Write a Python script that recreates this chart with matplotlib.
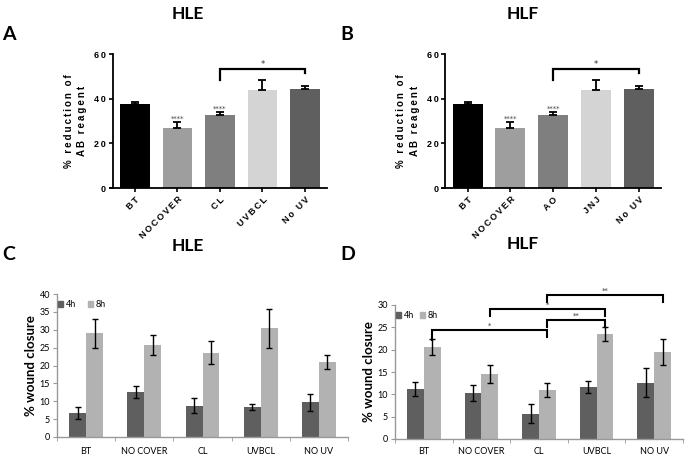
import numpy as np
import matplotlib.pyplot as plt
from matplotlib.patches import Patch

# Alamar blue (panels A and B)
ab_cats_hle = ['BT', 'NOCOVER', 'CL', 'UVBCL', 'No UV']
ab_cats_hlf = ['BT', 'NOCOVER', 'AO', 'JNJ', 'No UV']
ab_vals = [37.5, 27.0, 32.5, 44.0, 44.5]
ab_err = [1.0, 2.5, 1.5, 4.3, 1.0]
ab_stars = ['', '****', '****', '', '']

# Wound closure (panels C and D)
wound_cats = ['BT', 'NO COVER', 'CL', 'UVBCL', 'NO UV']
hle_4h = [6.7, 12.7, 8.8, 8.4, 9.7]
hle_4h_err = [1.7, 1.7, 2.2, 0.9, 2.4]
hle_8h = [29.0, 25.7, 23.6, 30.4, 20.9]
hle_8h_err = [4.1, 2.8, 3.3, 5.5, 2.0]
hlf_4h = [11.2, 10.3, 5.7, 11.6, 12.6]
hlf_4h_err = [1.6, 1.9, 2.1, 1.3, 3.2]
hlf_8h = [20.6, 14.5, 11.0, 23.5, 19.5]
hlf_8h_err = [1.8, 2.0, 1.6, 1.5, 3.0]

# brackets: (start, end, top, left drop, right drop, label)
ab_bracket = (2, 4, 53.2, 48.3, 51.5, '*')
hlf_brackets = [
    (0.145, 2.145, 24.4, 22.2, 22.8, '*'),
    (1.145, 3.145, 29.1, 27.5, 27.5, '*'),
    (2.145, 3.145, 26.6, 25.1, 25.1, '**'),
    (2.145, 4.145, 32.2, 30.7, 30.7, '**'),
]

ab_colors = ['#000000', '#9e9e9e', '#7f7f7f', '#d4d4d4', '#5f5f5f']
c4 = '#5f5f5f'
c8 = '#b2b2b2'
W, H = 685, 457

fig = plt.figure(figsize=(W / 100, H / 100), dpi=100)


def px_axes(l, t, r, b):
    return fig.add_axes([l / W, 1 - b / H, (r - l) / W, (b - t) / H])


def spaced(s):
    return '\u2009'.join(s)


def draw_bracket(ax, br, lw, fs):
    x1, x2, y, d1, d2, lab = br
    ax.plot([x1, x1, x2, x2], [d1, y, y, d2], color='black', lw=lw,
            clip_on=False, solid_joinstyle='miter')
    ax.text((x1 + x2) / 2, y + 0.3, lab, ha='center', va='bottom',
            fontsize=fs, color='#333333', clip_on=False)


def ab_panel(ax, cats):
    x = np.arange(len(cats))
    ax.bar(x, ab_vals, width=0.7, color=ab_colors)
    ax.errorbar(x, ab_vals, yerr=[np.zeros(len(x)), ab_err], fmt='none',
                ecolor='black', elinewidth=1.3, capsize=3, capthick=1.3)
    for xi, v, e, s in zip(x, ab_vals, ab_err, ab_stars):
        if s:
            ax.text(xi, v + e + 0.3, s, ha='center', va='bottom',
                    fontsize=5, color='#444444')
    draw_bracket(ax, ab_bracket, 1.6, 6)
    ax.set_xlim(-0.6, 4.52)
    ax.set_ylim(0, 60)
    for sp in ['top', 'right']:
        ax.spines[sp].set_visible(False)
    ax.spines['left'].set_position(('data', -0.52))
    ax.spines['left'].set_linewidth(1.3)
    ax.spines['bottom'].set_linewidth(1.3)
    ax.set_yticks([0, 20, 40, 60])
    ax.set_yticklabels([spaced(str(v)) for v in [0, 20, 40, 60]],
                       fontsize=6.5, fontweight='bold', family='Liberation Sans')
    ax.set_xticks(x)
    ax.set_xticklabels([spaced(c) for c in cats], rotation=45, ha='right',
                       rotation_mode='anchor', fontsize=6.5, fontweight='bold',
                       family='Liberation Sans')
    ax.tick_params(width=1.2, length=3, pad=2)
    ax.set_ylabel(spaced('% reduction of') + '\n' + spaced('AB reagent'),
                  fontsize=7, fontweight='bold', family='Liberation Sans',
                  labelpad=5, linespacing=1.4)


def wound_panel(ax, v4, e4, v8, e8, pad):
    x = np.arange(len(wound_cats))
    bw = 0.29
    ax.bar(x - bw / 2, v4, width=bw, color=c4, label='4h')
    ax.bar(x + bw / 2, v8, width=bw, color=c8, label='8h')
    ax.errorbar(x - bw / 2, v4, yerr=e4, fmt='none', ecolor='black',
                elinewidth=1.0, capsize=2.5, capthick=1.0)
    ax.errorbar(x + bw / 2, v8, yerr=e8, fmt='none', ecolor='black',
                elinewidth=1.0, capsize=2.5, capthick=1.0)
    ax.set_xlim(-0.5, 4.5)
    for sp in ['top', 'right']:
        ax.spines[sp].set_visible(False)
    for sp in ['left', 'bottom']:
        ax.spines[sp].set_color('#999999')
        ax.spines[sp].set_linewidth(1.0)
    ax.set_xticks(x)
    ax.set_xticklabels(wound_cats, fontsize=6.5, family='Lato')
    ax.set_xticks(np.arange(-0.5, 5.0, 1.0), minor=True)
    ax.tick_params(axis='x', which='major', length=0, pad=pad)
    ax.tick_params(axis='x', which='minor', length=3, color='#999999')
    ax.tick_params(axis='y', length=3, color='#999999', pad=2,
                   labelsize=6.5)
    ax.set_ylabel('% wound closure', fontsize=9.5, fontweight='bold',
                  family='Lato', labelpad=2)


# Panel A
axA = px_axes(109.5, 54, 327, 188)
ab_panel(axA, ab_cats_hle)
# Panel B
axB = px_axes(442, 54, 661, 188)
ab_panel(axB, ab_cats_hlf)

# Panel C
axC = px_axes(57, 294, 348, 437)
wound_panel(axC, hle_4h, hle_4h_err, hle_8h, hle_8h_err, 7.5)
axC.set_ylim(0, 40)
axC.set_yticks(np.arange(0, 41, 5))
for t in axC.get_yticklabels():
    t.set_family('Lato')
axC.legend(handles=[Patch(color=c4, label='4h'), Patch(color=c8, label='8h')],
           loc='upper left', bbox_to_anchor=(-0.01, 0.98), ncol=2,
           frameon=False, handlelength=0.6, handleheight=0.6,
           handletextpad=0.3, columnspacing=1.3, borderaxespad=0,
           prop={'family': 'Lato', 'size': 6.5})

# Panel D
axD = px_axes(395, 305, 683, 439)
wound_panel(axD, hlf_4h, hlf_4h_err, hlf_8h, hlf_8h_err, 6)
axD.set_ylim(0, 30)
axD.set_yticks(np.arange(0, 31, 5))
for t in axD.get_yticklabels():
    t.set_family('Lato')
for br in hlf_brackets:
    draw_bracket(axD, br, 1.5, 5)
axD.legend(handles=[Patch(color=c4, label='4h'), Patch(color=c8, label='8h')],
           loc='upper left', bbox_to_anchor=(-0.01, 0.98), ncol=2,
           frameon=False, handlelength=0.6, handleheight=0.6,
           handletextpad=0.3, columnspacing=0.6, borderaxespad=0,
           prop={'family': 'Lato', 'size': 6.5})

# titles and panel letters
for txt, x, y in [('HLE', 188, 14), ('HLF', 523, 14), ('HLE', 188, 246), ('HLF', 523, 244)]:
    fig.text(x / W, 1 - y / H, txt, ha='center', va='center', fontsize=12.5,
             fontweight='bold', family='Lato')
for txt, x, y in [('A', 2, 35), ('B', 340, 35), ('C', 2, 255), ('D', 340, 255)]:
    fig.text(x / W, 1 - y / H, txt, ha='left', va='center', fontsize=14,
             fontweight='bold', family='Lato')

fig.savefig('out.png', dpi=100)
